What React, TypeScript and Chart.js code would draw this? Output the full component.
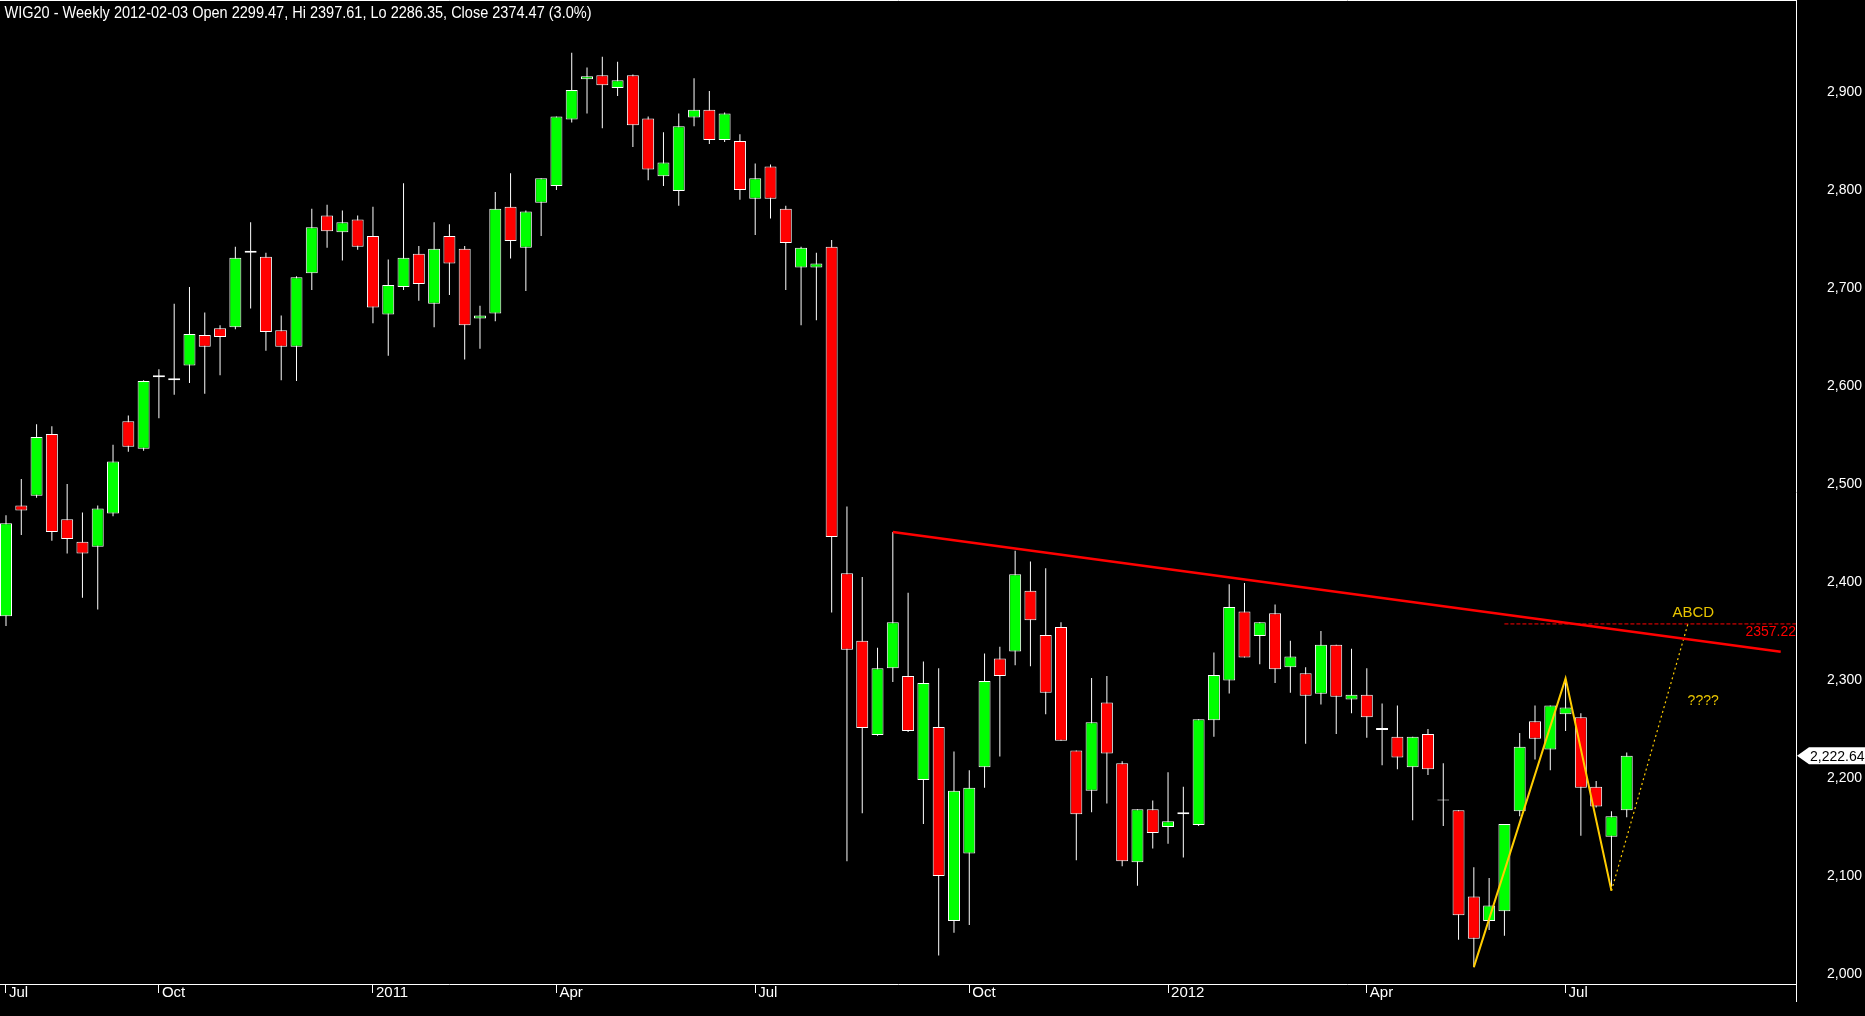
import React, { useEffect, useRef } from 'react';
import { Chart, registerables } from 'chart.js';

Chart.register(...registerables);

// Weekly WIG20 candles, July 2010 – August 2012 (index = week number)
const opens = [
  2365, 2478, 2488, 2551, 2464, 2441, 2436, 2470, 2564, 2536,
  2609, 2606, 2621, 2652, 2659, 2660, 2736, 2732, 2657, 2640,
  2715, 2774, 2757, 2770, 2753, 2673, 2701, 2735, 2684, 2753,
  2740, 2669, 2674, 2783, 2741, 2787, 2804, 2872, 2913, 2917,
  2904, 2917, 2873, 2814, 2799, 2874, 2882, 2851, 2850, 2791,
  2824, 2781, 2721, 2721, 2742, 2409, 2340, 2244, 2312, 2304,
  2198, 2252, 2054, 2123, 2211, 2322, 2329, 2391, 2346, 2354,
  2228, 2187, 2277, 2215, 2114, 2168, 2150, 2163, 2152, 2259,
  2299.47, 2370, 2345, 2368, 2313, 2307, 2286, 2336, 2280, 2285,
  2251, 2242, 2211, 2245, 2177, 2167, 2079, 2054, 2064, 2166,
  2258, 2229, 2265, 2262, 2191, 2140, 2167,
];
const highs = [
  2468, 2505, 2561, 2559, 2500, 2471, 2478, 2540, 2570, 2606,
  2617, 2684, 2701, 2675, 2662, 2742, 2767, 2736, 2672, 2712,
  2781, 2785, 2779, 2774, 2783, 2729, 2807, 2743, 2767, 2765,
  2743, 2682, 2798, 2817, 2779, 2812, 2875, 2940, 2925, 2936,
  2931, 2918, 2875, 2859, 2878, 2914, 2901, 2879, 2857, 2827,
  2826, 2784, 2742, 2736, 2749, 2477, 2405, 2333, 2451, 2389,
  2319, 2312, 2227, 2208, 2327, 2334, 2432, 2421, 2414, 2359,
  2228, 2302, 2304, 2217, 2168, 2177, 2206, 2191, 2260, 2328,
  2397.61, 2399, 2359, 2377, 2340, 2313, 2350, 2336, 2332, 2312,
  2276, 2274, 2242, 2250, 2215, 2167, 2109, 2098, 2153, 2246,
  2274, 2274, 2301, 2266, 2197, 2166, 2226,
];
const lows = [
  2355, 2448, 2486, 2442, 2429, 2384, 2372, 2467, 2533, 2534,
  2567, 2591, 2603, 2592, 2611, 2658, 2679, 2636, 2606, 2605,
  2698, 2741, 2728, 2739, 2664, 2631, 2698, 2687, 2660, 2693,
  2627, 2638, 2666, 2730, 2697, 2753, 2800, 2869, 2878, 2863,
  2896, 2844, 2810, 2804, 2784, 2865, 2847, 2849, 2790, 2754,
  2771, 2698, 2662, 2667, 2369, 2115, 2164, 2243, 2298, 2247,
  2153, 2019, 2042, 2050, 2190, 2222, 2315, 2314, 2265, 2238,
  2116, 2165, 2174, 2110, 2090, 2128, 2133, 2119, 2151, 2242,
  2286.35, 2323, 2316, 2297, 2287, 2235, 2275, 2245, 2266, 2241,
  2213, 2209, 2157, 2203, 2151, 2035, 2007, 2045, 2039, 2161,
  2219, 2208, 2248, 2141, 2170, 2089, 2160,
];
const closes = [
  2460, 2473, 2548, 2451, 2444, 2429, 2475, 2523, 2538, 2605,
  2611, 2608, 2653, 2640, 2650, 2731, 2738, 2655, 2640, 2711,
  2762, 2758, 2767, 2742, 2680, 2703, 2731, 2704, 2740, 2725,
  2662, 2672, 2781, 2748, 2778, 2812, 2875, 2902, 2916, 2907,
  2912, 2866, 2821, 2828, 2865, 2882, 2851, 2878, 2800, 2812,
  2791, 2746, 2741, 2725, 2446, 2331, 2251, 2312, 2359, 2248,
  2297, 2100, 2187, 2190, 2299, 2304, 2408, 2361, 2287, 2238,
  2163, 2257, 2225, 2115, 2168, 2144, 2156, 2165, 2260, 2305,
  2374.47, 2323, 2359, 2311, 2324, 2284, 2336, 2283, 2285, 2262,
  2249, 2221, 2242, 2209, 2178, 2060, 2036, 2070, 2153, 2232,
  2240, 2274, 2272, 2190, 2171, 2161, 2222.64,
];

const xTickIndex = [0, 10, 24, 36, 49, 63, 76, 89, 102];
const xTickLabels = ['Jul', 'Oct', '2011', 'Apr', 'Jul', 'Oct', '2012', 'Apr', 'Jul'];
const yTicks = [2000, 2100, 2200, 2300, 2400, 2500, 2600, 2700, 2800, 2900];

// Drawn studies
const trendX = [58, 116.07];
const trendY = [2451, 2328.9];
const abcdX = [96, 102, 105];
const abcdY = [2007, 2301.7, 2085];
const projX = [105, 110];
const projY = [2085, 2357.22];
const targetX = [98, 117.07];
const targetY = [2357.22, 2357.22];
const lastClose = 2222.64;
const titleText =
  'WIG20 - Weekly 2012-02-03 Open 2299.47, Hi 2397.61, Lo 2286.35, Close 2374.47 (3.0%)';

const FONT = '"Liberation Sans", Arial, sans-serif';
const UP = '#00ff00';
const DOWN = '#ff0000';
const YELLOW = '#ffcc00';

const overlayPlugin = {
  id: 'overlay',
  beforeDraw(chart: any) {
    const { ctx, width, height } = chart;
    ctx.save();
    ctx.fillStyle = '#000';
    ctx.fillRect(0, 0, width, height);
    ctx.restore();
  },
  afterDraw(chart: any) {
    const { ctx, chartArea } = chart;
    const xs = chart.scales.x;
    const ys = chart.scales.y;
    ctx.save();
    // frame pieces
    ctx.strokeStyle = '#fff';
    ctx.lineWidth = 1;
    ctx.beginPath();
    ctx.moveTo(0, 0.5);
    ctx.lineTo(chartArea.right + 0.5, 0.5);
    ctx.moveTo(chartArea.right + 0.5, chartArea.bottom);
    ctx.lineTo(chartArea.right + 0.5, chartArea.bottom + 18);
    ctx.stroke();

    // title
    ctx.fillStyle = '#fff';
    ctx.font = '17px ' + FONT;
    ctx.textAlign = 'left';
    ctx.textBaseline = 'alphabetic';
    const tw = ctx.measureText(titleText).width;
    ctx.save();
    ctx.translate(4.5, 18);
    ctx.scale(587 / tw, 1);
    ctx.fillText(titleText, 0, 0);
    ctx.restore();

    // annotations
    ctx.font = '15px ' + FONT;
    ctx.fillStyle = '#e8c400';
    ctx.textAlign = 'center';
    ctx.textBaseline = 'middle';
    ctx.fillText('ABCD', xs.getPixelForValue(110.35), ys.getPixelForValue(2369));
    ctx.font = '14px ' + FONT;
    ctx.fillText('????', xs.getPixelForValue(111), ys.getPixelForValue(2278));
    ctx.fillStyle = '#ff0000';
    ctx.textAlign = 'right';
    ctx.fillText(targetY[0].toFixed(2), chartArea.right, ys.getPixelForValue(2349));

    // last price box
    const py = ys.getPixelForValue(lastClose);
    const left = chartArea.right + 1;
    ctx.fillStyle = '#fff';
    ctx.beginPath();
    ctx.moveTo(left, py);
    ctx.lineTo(left + 12, py - 8.5);
    ctx.lineTo(chart.width, py - 8.5);
    ctx.lineTo(chart.width, py + 8.5);
    ctx.lineTo(left + 12, py + 8.5);
    ctx.closePath();
    ctx.fill();
    ctx.fillStyle = '#000';
    ctx.font = '14px ' + FONT;
    ctx.textAlign = 'left';
    ctx.fillText(
      lastClose.toLocaleString('en-US', { minimumFractionDigits: 2 }),
      left + 13,
      py + 1
    );
    ctx.restore();
  },
};

export default function App() {
  const ref = useRef<HTMLCanvasElement | null>(null);

  useEffect(() => {
    document.body.style.margin = '0';
    document.body.style.background = '#000';
    if (!ref.current) return;

    const bodyData = opens.map((o, i) => ({ x: i, y: [o, closes[i]] }));
    const wickData = lows.map((l, i) => ({ x: i, y: [l, highs[i]] }));
    const toPts = (xs: number[], ys: number[]) => xs.map((x, i) => ({ x, y: ys[i] }));

    const lineBase = {
      type: 'line' as const,
      pointRadius: 0,
      tension: 0,
      fill: false,
      order: 0,
    };

    const chart = new Chart(ref.current, {
      type: 'bar',
      data: {
        datasets: [
          {
            ...lineBase,
            label: 'trend',
            data: toPts(trendX, trendY),
            borderColor: '#ff0000',
            borderWidth: 2.5,
          },
          {
            ...lineBase,
            label: 'abcd',
            data: toPts(abcdX, abcdY),
            borderColor: YELLOW,
            borderWidth: 2,
          },
          {
            ...lineBase,
            label: 'projection',
            data: toPts(projX, projY),
            borderColor: YELLOW,
            borderWidth: 1.2,
            borderDash: [2, 3],
          },
          {
            ...lineBase,
            label: 'target',
            data: toPts(targetX, targetY),
            borderColor: '#ff0000',
            borderWidth: 1,
            borderDash: [4, 2],
          },
          {
            type: 'bar',
            label: 'body',
            data: bodyData as any,
            order: 1,
            grouped: false,
            barThickness: 12,
            borderWidth: 1,
            borderColor: '#ffffff',
            borderSkipped: false,
            inflateAmount: 0,
            backgroundColor: (c: any) => {
              const r = c.raw;
              return r && r.y[1] >= r.y[0] ? UP : DOWN;
            },
          },
          {
            type: 'bar',
            label: 'wick',
            data: wickData as any,
            order: 2,
            grouped: false,
            barThickness: 1,
            borderWidth: 0,
            inflateAmount: 0,
            backgroundColor: '#ffffff',
          },
        ] as any,
      },
      options: {
        responsive: false,
        animation: false,
        devicePixelRatio: 1,
        layout: { padding: 0 },
        font: { family: FONT },
        plugins: {
          legend: { display: false },
          tooltip: { enabled: false },
          title: { display: false },
        },
        scales: {
          x: {
            type: 'linear',
            min: -0.392,
            max: 117.07,
            offset: false,
            position: 'bottom',
            afterBuildTicks: (s: any) => {
              s.ticks = xTickIndex.map((v) => ({ value: v }));
            },
            afterFit: (s: any) => {
              s.height = 32;
              s.paddingLeft = 0;
              s.paddingRight = 0;
            },
            ticks: {
              autoSkip: false,
              maxRotation: 0,
              minRotation: 0,
              align: 'start',
              labelOffset: 3,
              padding: -9,
              color: '#ffffff',
              font: { family: FONT, size: 15 },
              callback: (_v: any, i: number) => xTickLabels[i],
            },
            grid: {
              display: true,
              offset: false,
              drawOnChartArea: false,
              drawTicks: true,
              tickLength: 9,
              color: '#ffffff',
              lineWidth: 1,
            },
            border: { display: true, color: '#ffffff', width: 1 },
          },
          y: {
            type: 'linear',
            position: 'right',
            min: 1989.8,
            max: 2993.9,
            afterBuildTicks: (s: any) => {
              s.ticks = yTicks.map((v) => ({ value: v }));
            },
            afterFit: (s: any) => {
              s.width = 69;
              s.paddingTop = 0;
              s.paddingBottom = 0;
            },
            ticks: {
              color: '#ffffff',
              padding: 31,
              font: { family: FONT, size: 14 },
              callback: (v: any) => Number(v).toLocaleString('en-US'),
            },
            grid: { display: false, drawTicks: false, offset: false },
            border: { display: true, color: '#ffffff', width: 1 },
          },
        },
      } as any,
      plugins: [overlayPlugin],
    });

    return () => chart.destroy();
  }, []);

  return (
    <div style={{ width: 1865, height: 1016, background: '#000' }}>
      <canvas ref={ref} width={1865} height={1016} style={{ display: 'block' }} />
    </div>
  );
}
